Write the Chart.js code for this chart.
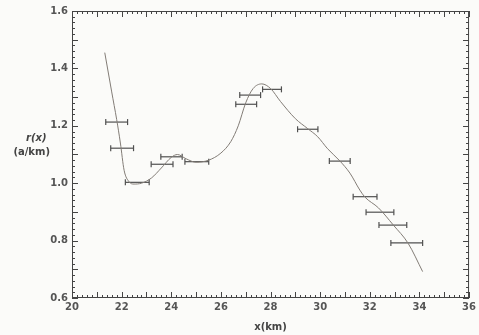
<!DOCTYPE html>
<html><head><meta charset="utf-8">
<script src="https://cdn.jsdelivr.net/npm/chart.js@4/dist/chart.umd.min.js"></script>
<style>
html,body{margin:0;padding:0;background:#fbfbf9;}
#wrap{position:relative;width:479px;height:335px;}
#ytitle{position:absolute;left:2px;top:131px;width:48px;text-align:right;font:bold 10px "DejaVu Sans",sans-serif;color:#444;line-height:14px;}
</style></head>
<body>
<div id="wrap">
<canvas id="c" width="479" height="335"></canvas>
<div id="ytitle"><i>r(x)</i>&nbsp;<br>(a/km)</div>
</div>
<script>
// curve
const curveX = [21.32,21.6,21.8,21.95,22.1,22.3,22.5,22.8,23.2,23.6,24.0,24.25,24.6,25.0,25.5,26.0,26.4,26.7,27.0,27.3,27.65,28.0,28.4,29.0,29.5,29.9,30.3,30.8,31.2,31.6,31.8,32.35,32.95,33.55,34.13];
const curveY = [1.455,1.318,1.222,1.14,1.045,1.005,0.997,1.0,1.018,1.053,1.09,1.10,1.085,1.073,1.08,1.105,1.145,1.2,1.28,1.33,1.346,1.33,1.285,1.225,1.19,1.162,1.12,1.077,1.035,0.976,0.952,0.914,0.854,0.79,0.692];
// measurements with horizontal error bars
const barX = [21.8,22.02,22.63,23.63,24.01,25.03,27.02,27.18,28.06,29.5,30.79,31.81,32.41,32.93,33.49];
const barY = [1.213,1.122,1.003,1.066,1.092,1.075,1.275,1.307,1.327,1.188,1.077,0.953,0.899,0.854,0.792];
const barHalf = [0.44,0.46,0.48,0.44,0.43,0.48,0.42,0.42,0.38,0.41,0.42,0.48,0.56,0.56,0.64];
const xTicks = [20,22,24,26,28,30,32,34,36];
const yTicks = [0.6,0.8,1.0,1.2,1.4,1.6];

const datasets = [{
  data: curveX.map((x,i)=>({x, y: curveY[i]})),
  borderColor: '#827c76', borderWidth: 1, pointRadius: 0,
  cubicInterpolationMode: 'monotone', fill: false
}];
barX.forEach((x,i)=>{
  datasets.push({
    data: [{x: x-barHalf[i], y: barY[i]}, {x: x+barHalf[i], y: barY[i]}],
    borderColor: '#505050', borderWidth: 1.2,
    pointStyle: 'line', rotation: 90, pointRadius: 3, pointBorderWidth: 1.2,
    pointBorderColor: '#505050', pointHoverRadius: 3
  });
});

const frame = {
  id: 'frame',
  afterDraw(chart){
    const {ctx, chartArea:a, scales:{x, y}} = chart;
    ctx.save();
    ctx.strokeStyle = '#444'; ctx.lineWidth = 1;
    ctx.strokeRect(a.left+0.5, a.top+0.5, a.right-a.left-1, a.bottom-a.top-1);
    ctx.beginPath();
    for (let k=0;k<=80;k++){
      const v = 20 + k*0.2;
      const px = Math.round(x.getPixelForValue(v))+0.5;
      const len = (k%5===0) ? 6 : 3;
      ctx.moveTo(px, a.bottom); ctx.lineTo(px, a.bottom-len);
      ctx.moveTo(px, a.top); ctx.lineTo(px, a.top+len);
    }
    for (let k=0;k<=50;k++){
      const v = 0.6 + k*0.02;
      const py = Math.round(y.getPixelForValue(v))+0.5;
      const len = (k%5===0) ? 6 : 3;
      ctx.moveTo(a.left, py); ctx.lineTo(a.left+len, py);
      ctx.moveTo(a.right, py); ctx.lineTo(a.right-len, py);
    }
    ctx.stroke();
    ctx.restore();
  }
};

const tickFont = { family: 'DejaVu Sans', size: 10, weight: 'bold' };
new Chart(document.getElementById('c'), {
  type: 'line',
  data: { datasets },
  options: {
    responsive: false, animation: false, events: [],
    layout: { padding: { left: 0, right: 6, top: 11, bottom: 0 } },
    plugins: { legend: { display: false }, tooltip: { enabled: false } },
    scales: {
      x: {
        type: 'linear', min: 20, max: 36,
        afterBuildTicks: s => { s.ticks = xTicks.map(v=>({value:v})); },
        afterFit: s => { s.height = 37; },
        grid: { display: false, drawTicks: false },
        border: { display: false },
        ticks: { padding: 3, color: '#555', font: tickFont, maxRotation: 0, callback: v => String(v) },
        title: { display: true, text: 'x(km)', color: '#444', padding: { top: 2, bottom: 2 }, font: tickFont }
      },
      y: {
        type: 'linear', min: 0.6, max: 1.6,
        afterBuildTicks: s => { s.ticks = yTicks.map(v=>({value:v})); },
        afterFit: s => { s.width = 72; },
        grid: { display: false, drawTicks: false },
        border: { display: false },
        ticks: { padding: 4, color: '#555', font: tickFont, callback: v => Number(v).toFixed(1) }
      }
    }
  },
  plugins: [frame]
});
</script>
</body></html>
